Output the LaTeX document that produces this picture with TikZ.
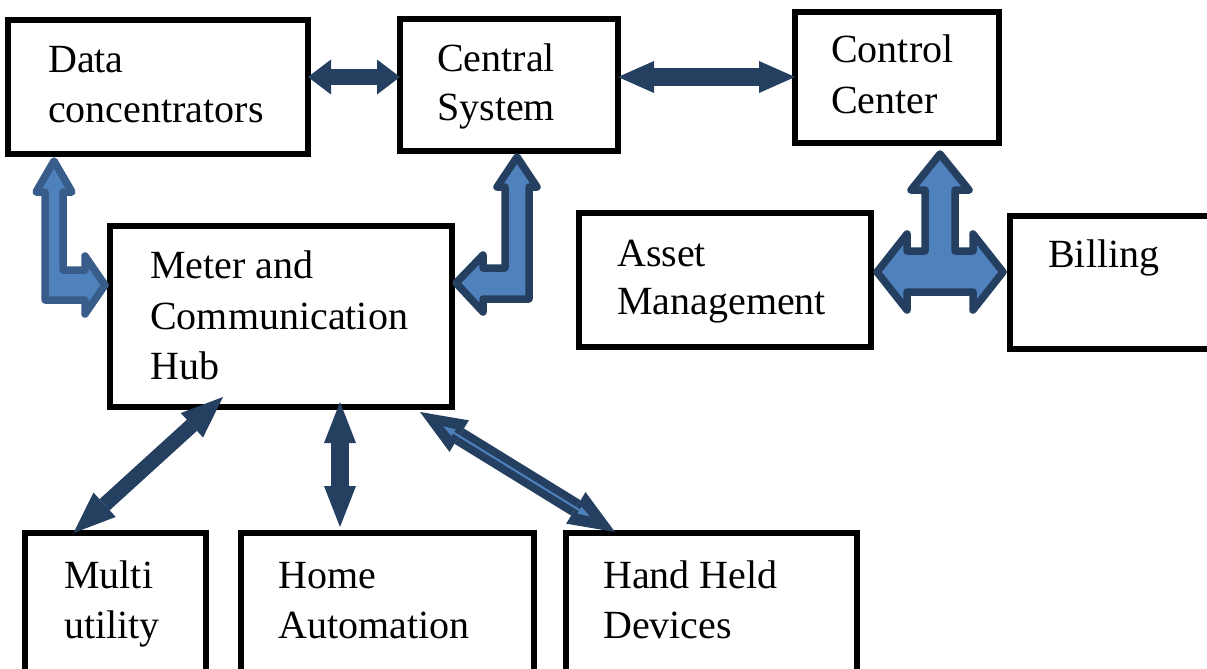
\documentclass[tikz,border=0pt]{standalone}
\usepackage{fontspec}
\setmainfont{Liberation Serif}
\usetikzlibrary{arrows.meta,calc}
\definecolor{navy}{HTML}{243F60}
\definecolor{steel}{HTML}{4F81BD}
\definecolor{rim}{HTML}{385D8A}
\begin{document}
\begin{tikzpicture}[x=1pt,y=-1pt,
  box/.style={draw=black, line width=5.5pt, inner sep=0pt, outer sep=0pt, anchor=north west},
  lbl/.style={anchor=base west, inner sep=0pt, font=\fontsize{40}{50}\selectfont},
  fat/.style n args={3}{draw=navy, line width=#1pt,
    {Triangle[length=#2pt,width=#3pt,line width=0pt]}-{Triangle[length=#2pt,width=#3pt,line width=0pt]}},
  bent/.style={fill=steel, draw=#1, line width=7.5pt, line join=round}]
\useasboundingbox (0,0) rectangle (1207,669);
\fill[white] (0,0) rectangle (1207,669);

% level line for the horizontal links
\coordinate (yTop) at (0,77);

% boxes
\node[box, minimum width=300pt, minimum height=134pt] (dc) at (8,20) {};
\node[box, minimum width=218pt, minimum height=132pt] (cs) at (400,19) {};
\node[box, minimum width=204pt, minimum height=131pt] (cc) at (795,12) {};
\node[box, minimum width=342pt, minimum height=181pt] (meter) at (110,226) {};
\node[box, minimum width=292pt, minimum height=134pt] (asset) at (579,213) {};
\node[box, minimum width=210pt, minimum height=133pt] (bill) at (1010,216) {};
\node[box, minimum width=181pt, minimum height=150pt] (multi) at (25,533) {};
\node[box, minimum width=293pt, minimum height=150pt] (home) at (241,533) {};
\node[box, minimum width=291pt, minimum height=150pt] (hand) at (566,533) {};

% labels
\node[lbl] (dcA) at (48,72) {Data};
\node[lbl] (dcB) at (48,122) {concentrators};
\node[lbl] (csA) at (437,71) {Central};
\node[lbl] (csB) at (437,120) {System};
\node[lbl] (ccA) at (831,63) {Control};
\node[lbl] (ccB) at (831,113) {Center};
\node[lbl] (mA) at (150,278) {Meter and};
\node[lbl] (mB) at (150,329) {Communication};
\node[lbl] (mC) at (150,379) {Hub};
\node[lbl] (aA) at (617,266) {Asset};
\node[lbl] (aB) at (617,314) {Management};
\node[lbl] (bA) at (1048,267) {Billing};
\node[lbl] (muA) at (64,588) {Multi};
\node[lbl] (muB) at (64,638) {utility};
\node[lbl] (hoA) at (278,588) {Home};
\node[lbl] (hoB) at (278,638) {Automation};
\node[lbl] (haA) at (603,588) {Hand Held};
\node[lbl] (haB) at (603,638) {Devices};

% straight two-way links
\draw[fat={15}{23}{35}] (dc.east |- yTop) -- (cs.west |- yTop);
\draw[fat={17}{36}{32}] (cs.east |- yTop) -- (cc.west |- yTop);
\draw[fat={15}{42}{33}] ([xshift=-42pt]multi.north) -- ([xshift=-58pt,yshift=10pt]meter.south);
\draw[fat={18}{41}{32}] ([xshift=59pt,yshift=5pt]meter.south) -- ([xshift=-47.5pt,yshift=6pt]home.north);
\coordinate (h1) at ([xshift=139pt,yshift=-5pt]meter.south);
\coordinate (h2) at ([xshift=-96.5pt,yshift=1pt]hand.north);
\draw[fat={18}{46}{37}] (h1) -- (h2);
\draw[steel, line width=2pt, {Triangle[length=12pt,width=8pt,line width=0pt]}-{Triangle[length=12pt,width=8pt,line width=0pt]}]
  ($(h1)!0.12!(h2)$) -- ($(h1)!0.87!(h2)$);

% bent arrow: data concentrators <-> meter hub
\draw[bent=rim] (54,161) -- (72,192) -- (63,192) -- (63,270) -- (85,270) -- (85,256)
  -- (105,285) -- (85,314) -- (85,300) -- (45,300) -- (45,192) -- (36,192) -- cycle;

% bent arrow: central system <-> meter hub
\draw[bent=navy] (517,157) -- (537,187) -- (529,187) -- (529,299) -- (483,299) -- (483,312)
  -- (456,283) -- (483,255) -- (483,268) -- (505,268) -- (505,187) -- (497,187) -- cycle;

% three-way arrow: control center, asset management, billing
\draw[bent=navy] (940,154) -- (969,190) -- (955,190) -- (955,251) -- (973,251) -- (973,234)
  -- (1003,272) -- (973,310) -- (973,292) -- (907,292) -- (907,310) -- (877,272)
  -- (907,234) -- (907,251) -- (925,251) -- (925,190) -- (911,190) -- cycle;
\end{tikzpicture}
\end{document}
